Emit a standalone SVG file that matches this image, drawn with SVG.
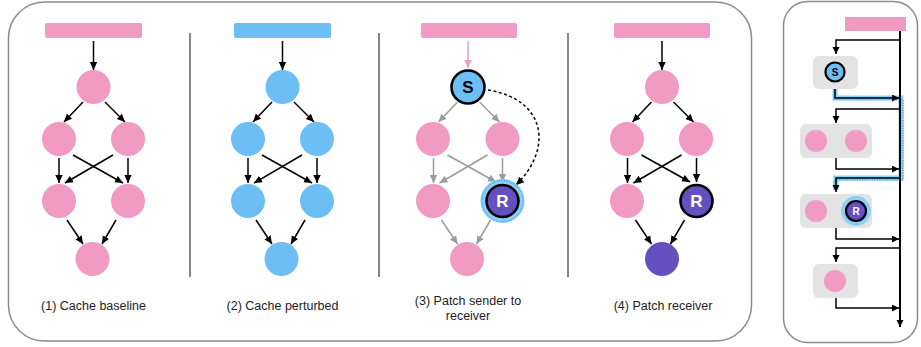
<svg xmlns="http://www.w3.org/2000/svg" width="921" height="347" viewBox="0 0 921 347">
<defs>
<marker id="ah" markerUnits="userSpaceOnUse" markerWidth="9" markerHeight="9" refX="8" refY="4" orient="auto"><path d="M0,0.3 L8,4 L0,7.7 z" fill="#000"/></marker>
<marker id="ahg" markerUnits="userSpaceOnUse" markerWidth="9" markerHeight="9" refX="8" refY="4" orient="auto"><path d="M0,0.3 L8,4 L0,7.7 z" fill="#9b9b9b"/></marker>
<marker id="ahp" markerUnits="userSpaceOnUse" markerWidth="9" markerHeight="9" refX="8" refY="4" orient="auto"><path d="M0,0.3 L8,4 L0,7.7 z" fill="#F09AC4"/></marker>
<marker id="ahs" markerUnits="userSpaceOnUse" markerWidth="8" markerHeight="8" refX="7" refY="3.5" orient="auto"><path d="M0,0 L7,3.5 L0,7 z" fill="#000"/></marker>
<style>
.frame{fill:#fff;stroke:#8c8c8c;stroke-width:1.5}
.div{stroke:#444;stroke-width:1.3}
.pink{fill:#F09AC4}
.blue{fill:#6EBEF6}
.purple{fill:#6550BF}
.ring{stroke:#000;stroke-width:2.6}
.bar-p{fill:#F09AC4}
.bar-b{fill:#6EBEF6}
.a{stroke:#000;stroke-width:1.5;fill:none;marker-end:url(#ah)}
.g{stroke:#9b9b9b;stroke-width:1.5;fill:none;marker-end:url(#ahg)}
.s{stroke:#000;stroke-width:1.5;fill:none;marker-end:url(#ahs)}
.lbl{font-family:"Liberation Sans",Arial,sans-serif;font-size:12.5px;fill:#222;text-anchor:middle}
.nl{font-family:"Liberation Sans",Arial,sans-serif;font-weight:bold;text-anchor:middle}
.box{fill:#E3E3E3}
.glow{fill:none;stroke:#8CCFF7;stroke-width:5}
.glowd{fill:none;stroke:#4FB0EE;stroke-width:1.6;stroke-dasharray:1.2 1.3}
</style>
</defs>

<rect class="frame" x="8.5" y="2" width="743" height="339" rx="36"/>
<rect class="frame" x="783.5" y="1.5" width="134" height="341" rx="24"/>

<g id="dividers">
<line class="div" x1="190" y1="33" x2="190" y2="277"/>
<line class="div" x1="379" y1="33" x2="379" y2="277"/>
<line class="div" x1="568" y1="33" x2="568" y2="277"/>
</g>

<!-- Panel 1 -->
<g id="panel1" transform="translate(93.5,0)">
<g id="p1-connectors">
<line class="a" x1="0" y1="41" x2="0" y2="70"/>
<line class="a" x1="-10.5" y1="102" x2="-29.5" y2="122"/>
<line class="a" x1="11.5" y1="102" x2="31.5" y2="122"/>
<line class="a" x1="-34.5" y1="158" x2="-34.5" y2="183"/>
<line class="a" x1="34.5" y1="158" x2="34.5" y2="183"/>
<line class="a" x1="-20.5" y1="155" x2="29.5" y2="183"/>
<line class="a" x1="19.5" y1="155" x2="-28.5" y2="183"/>
<line class="a" x1="-26.5" y1="220" x2="-10.5" y2="244"/>
<line class="a" x1="22.5" y1="220" x2="8.5" y2="244"/>
</g>
<g id="p1-input"><rect class="bar-p" x="-48.5" y="23" width="97" height="15" rx="2"/></g>
<g id="p1-top"><circle class="pink" cx="0" cy="87" r="17"/></g>
<g id="p1-l2a"><circle class="pink" cx="-34.5" cy="139" r="17"/></g>
<g id="p1-l2b"><circle class="pink" cx="34.5" cy="139" r="17"/></g>
<g id="p1-l3a"><circle class="pink" cx="-34.5" cy="201" r="17"/></g>
<g id="p1-l3b"><circle class="pink" cx="34.5" cy="201" r="17"/></g>
<g id="p1-out"><circle class="pink" cx="-1" cy="259" r="17"/></g>
<text class="lbl" x="0" y="309.5">(1) Cache baseline</text>
</g>

<!-- Panel 2 -->
<g id="panel2" transform="translate(282.5,0)">
<g id="p2-connectors">
<line class="a" x1="0" y1="41" x2="0" y2="70"/>
<line class="a" x1="-10.5" y1="102" x2="-29.5" y2="122"/>
<line class="a" x1="11.5" y1="102" x2="31.5" y2="122"/>
<line class="a" x1="-34.5" y1="158" x2="-34.5" y2="183"/>
<line class="a" x1="34.5" y1="158" x2="34.5" y2="183"/>
<line class="a" x1="-20.5" y1="155" x2="29.5" y2="183"/>
<line class="a" x1="19.5" y1="155" x2="-28.5" y2="183"/>
<line class="a" x1="-26.5" y1="220" x2="-10.5" y2="244"/>
<line class="a" x1="22.5" y1="220" x2="8.5" y2="244"/>
</g>
<g id="p2-input"><rect class="bar-b" x="-48.5" y="23" width="97" height="15" rx="2"/></g>
<g id="p2-top"><circle class="blue" cx="0" cy="87" r="17"/></g>
<g id="p2-l2a"><circle class="blue" cx="-34.5" cy="139" r="17"/></g>
<g id="p2-l2b"><circle class="blue" cx="34.5" cy="139" r="17"/></g>
<g id="p2-l3a"><circle class="blue" cx="-34.5" cy="201" r="17"/></g>
<g id="p2-l3b"><circle class="blue" cx="34.5" cy="201" r="17"/></g>
<g id="p2-out"><circle class="blue" cx="-1" cy="259" r="17"/></g>
<text class="lbl" x="0" y="309.5">(2) Cache perturbed</text>
</g>

<!-- Panel 3 -->
<g id="panel3" transform="translate(468,0)">
<g id="p3-connectors">
<line x1="0" y1="41" x2="0" y2="68" stroke="#F09AC4" stroke-width="1.5" marker-end="url(#ahp)"/>
<line class="g" x1="-10.5" y1="102" x2="-29.5" y2="122"/>
<line class="g" x1="11.5" y1="102" x2="31.5" y2="122"/>
<line class="g" x1="-34.5" y1="158" x2="-34.5" y2="183"/>
<line class="g" x1="34.5" y1="158" x2="34.5" y2="182"/>
<line class="g" x1="-20.5" y1="155" x2="28" y2="182"/>
<line class="g" x1="19.5" y1="155" x2="-28.5" y2="183"/>
<line class="g" x1="-26.5" y1="220" x2="-10.5" y2="244"/>
<line class="g" x1="22.5" y1="220" x2="8.5" y2="244"/>
<path d="M20,90 C80,100 84,150 48,185" fill="none" stroke="#000" stroke-width="1.5" stroke-dasharray="3 2.5" marker-end="url(#ah)"/>
</g>
<g id="p3-input"><rect class="bar-p" x="-47" y="23" width="96" height="15" rx="2"/></g>
<g id="p3-sender"><circle class="blue ring" cx="0" cy="87" r="16.5"/><text class="nl" x="0" y="93" font-size="17" fill="#000">S</text></g>
<g id="p3-l2a"><circle class="pink" cx="-35" cy="139" r="17"/></g>
<g id="p3-l2b"><circle class="pink" cx="34.5" cy="139" r="17"/></g>
<g id="p3-l3a"><circle class="pink" cx="-35" cy="201" r="17"/></g>
<g id="p3-receiver">
<circle class="glow" cx="34.5" cy="201" r="19.5"/>
<circle class="glowd" cx="34.5" cy="201" r="20.5"/>
<circle class="purple ring" cx="34.5" cy="201" r="16"/>
<text class="nl" x="34.5" y="207" font-size="17" fill="#fff">R</text>
</g>
<g id="p3-out"><circle class="pink" cx="-1" cy="259" r="17"/></g>
<text class="lbl" x="0" y="304.5">(3) Patch sender to</text>
<text class="lbl" x="0" y="319.5">receiver</text>
</g>

<!-- Panel 4 -->
<g id="panel4" transform="translate(662,0)">
<g id="p4-connectors">
<line class="a" x1="0" y1="41" x2="0" y2="70"/>
<line class="a" x1="-10.5" y1="102" x2="-29.5" y2="122"/>
<line class="a" x1="11.5" y1="102" x2="31.5" y2="122"/>
<line class="a" x1="-34.5" y1="158" x2="-34.5" y2="183"/>
<line class="a" x1="34.5" y1="158" x2="34.5" y2="182"/>
<line class="a" x1="-20.5" y1="155" x2="28" y2="182"/>
<line class="a" x1="19.5" y1="155" x2="-28.5" y2="183"/>
<line class="a" x1="-26.5" y1="220" x2="-10.5" y2="244"/>
<line class="a" x1="22.5" y1="220" x2="8.5" y2="244"/>
</g>
<g id="p4-input"><rect class="bar-p" x="-48" y="23" width="96" height="15" rx="2"/></g>
<g id="p4-top"><circle class="pink" cx="0" cy="87" r="17"/></g>
<g id="p4-l2a"><circle class="pink" cx="-35" cy="139" r="17"/></g>
<g id="p4-l2b"><circle class="pink" cx="34" cy="139" r="17"/></g>
<g id="p4-l3a"><circle class="pink" cx="-35" cy="201" r="17"/></g>
<g id="p4-receiver"><circle class="purple ring" cx="34.5" cy="201" r="16"/><text class="nl" x="34.5" y="207" font-size="17" fill="#fff">R</text></g>
<g id="p4-out"><circle class="purple" cx="0" cy="259" r="17"/></g>
<text class="lbl" x="1" y="309.5">(4) Patch receiver</text>
</g>

<!-- Right panel: residual stream view -->
<g id="residual">
<g id="r-highlight">
<path class="glow" d="M835,89 V98 H901 V178 H836 V190"/>
<path class="glowd" d="M834,89 V99.5 H903 V180 H834 V190"/>
</g>
<g id="r-connectors">
<line x1="900" y1="31" x2="900" y2="327" stroke="#000" stroke-width="2" marker-end="url(#ahs)"/>
<path class="s" d="M900,40 H836 V54"/>
<path class="s" d="M835,89 V98 H899"/>
<path class="s" d="M900,109 H836 V123"/>
<path class="s" d="M836,158 V169 H899"/>
<path class="s" d="M900,178 H836 V192"/>
<path class="s" d="M836,228 V239 H899"/>
<path class="s" d="M900,248 H836 V262"/>
<path class="s" d="M836,298 V308 H899"/>
</g>
<g id="r-input"><rect class="bar-p" x="845" y="17" width="61" height="14"/></g>
<g id="r-layer1"><rect class="box" x="813" y="56" width="45" height="33" rx="6"/><circle class="blue" cx="835" cy="72" r="9.5" stroke="#000" stroke-width="2.2"/><text class="nl" x="835" y="76" font-size="10" fill="#000">S</text></g>
<g id="r-layer2"><rect class="box" x="800" y="124" width="72" height="34" rx="6"/><circle class="pink" cx="816" cy="141" r="11"/><circle class="pink" cx="856" cy="141" r="11"/></g>
<g id="r-layer3"><rect class="box" x="800" y="194" width="72" height="34" rx="6"/><circle class="pink" cx="816" cy="211" r="11"/>
<circle class="glow" cx="856" cy="211" r="12.5" stroke-width="3.5"/>
<circle class="purple" cx="856" cy="211" r="10" stroke="#000" stroke-width="2.2"/><text class="nl" x="856" y="215" font-size="10" fill="#fff">R</text></g>
<g id="r-layer4"><rect class="box" x="813" y="264" width="45" height="34" rx="6"/><circle class="pink" cx="835" cy="281" r="11"/></g>
</g>
</svg>
